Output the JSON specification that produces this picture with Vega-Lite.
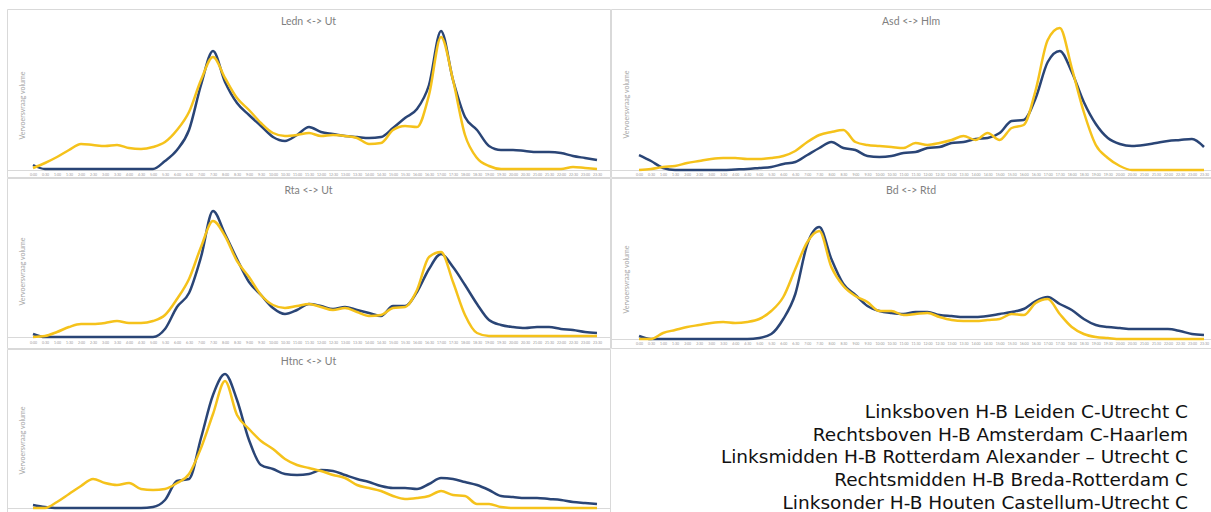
{
"$schema": "https://vega.github.io/schema/vega-lite/v6.json",
"padding": {"left": 6, "top": 8, "right": 0, "bottom": 0},
"background": "white",
"config": {
  "view": {"stroke": "#d9d9d9", "strokeWidth": 1},
  "font": "Lato",
  "title": {"fontSize": 10.5, "fontWeight": "normal", "color": "#808080", "font": "Lato", "offset": -18, "anchor": "middle", "baseline": "alphabetic"},
  "line": {"strokeWidth": 2.5, "interpolate": "monotone"}
},
"datasets": {
"regels": [
{"regel": 1, "tekst": "Linksboven H-B Leiden C-Utrecht C"},
{"regel": 2, "tekst": "Rechtsboven H-B Amsterdam C-Haarlem"},
{"regel": 3, "tekst": "Linksmidden H-B Rotterdam Alexander – Utrecht C"},
{"regel": 4, "tekst": "Rechtsmidden H-B Breda-Rotterdam C"},
{"regel": 5, "tekst": "Linksonder H-B Houten Castellum-Utrecht C"}
],
"reeksen": [
{"paneel":"TL","t":0,"blauw":5,"geel":2},{"paneel":"TL","t":1,"blauw":1,"geel":7},{"paneel":"TL","t":2,"blauw":1,"geel":13},{"paneel":"TL","t":3,"blauw":1,"geel":20},{"paneel":"TL","t":4,"blauw":1,"geel":26},{"paneel":"TL","t":5,"blauw":1,"geel":25},{"paneel":"TL","t":6,"blauw":1,"geel":24},{"paneel":"TL","t":7,"blauw":1,"geel":25},{"paneel":"TL","t":8,"blauw":1,"geel":22},{"paneel":"TL","t":9,"blauw":1,"geel":21},
{"paneel":"TL","t":10,"blauw":1,"geel":23},{"paneel":"TL","t":11,"blauw":9,"geel":28},{"paneel":"TL","t":12,"blauw":20,"geel":40},{"paneel":"TL","t":13,"blauw":40,"geel":58},{"paneel":"TL","t":14,"blauw":85,"geel":90},{"paneel":"TL","t":15,"blauw":119,"geel":113},{"paneel":"TL","t":16,"blauw":88,"geel":92},{"paneel":"TL","t":17,"blauw":67,"geel":72},{"paneel":"TL","t":18,"blauw":55,"geel":60},{"paneel":"TL","t":19,"blauw":44,"geel":47},
{"paneel":"TL","t":20,"blauw":33,"geel":37},{"paneel":"TL","t":21,"blauw":29,"geel":34},{"paneel":"TL","t":22,"blauw":35,"geel":35},{"paneel":"TL","t":23,"blauw":43,"geel":37},{"paneel":"TL","t":24,"blauw":38,"geel":34},{"paneel":"TL","t":25,"blauw":36,"geel":35},{"paneel":"TL","t":26,"blauw":34,"geel":34},{"paneel":"TL","t":27,"blauw":33,"geel":32},{"paneel":"TL","t":28,"blauw":32,"geel":26},{"paneel":"TL","t":29,"blauw":33,"geel":27},
{"paneel":"TL","t":30,"blauw":42,"geel":40},{"paneel":"TL","t":31,"blauw":52,"geel":44},{"paneel":"TL","t":32,"blauw":61,"geel":43},{"paneel":"TL","t":33,"blauw":85,"geel":75},{"paneel":"TL","t":34,"blauw":139,"geel":133},{"paneel":"TL","t":35,"blauw":90,"geel":90},{"paneel":"TL","t":36,"blauw":53,"geel":35},{"paneel":"TL","t":37,"blauw":40,"geel":12},{"paneel":"TL","t":38,"blauw":24,"geel":4},{"paneel":"TL","t":39,"blauw":20,"geel":1},
{"paneel":"TL","t":40,"blauw":20,"geel":1},{"paneel":"TL","t":41,"blauw":19,"geel":1},{"paneel":"TL","t":42,"blauw":18,"geel":1},{"paneel":"TL","t":43,"blauw":18,"geel":1},{"paneel":"TL","t":44,"blauw":17,"geel":1},{"paneel":"TL","t":45,"blauw":14,"geel":3},{"paneel":"TL","t":46,"blauw":12,"geel":2},{"paneel":"TL","t":47,"blauw":10,"geel":1},

{"paneel":"TR","t":0,"blauw":15,"geel":0},{"paneel":"TR","t":1,"blauw":9,"geel":1},{"paneel":"TR","t":2,"blauw":2,"geel":3},{"paneel":"TR","t":3,"blauw":0,"geel":4},{"paneel":"TR","t":4,"blauw":0,"geel":7},{"paneel":"TR","t":5,"blauw":0,"geel":9},{"paneel":"TR","t":6,"blauw":0,"geel":11},{"paneel":"TR","t":7,"blauw":0,"geel":12},{"paneel":"TR","t":8,"blauw":0.5,"geel":12},{"paneel":"TR","t":9,"blauw":1,"geel":11},
{"paneel":"TR","t":10,"blauw":2,"geel":11},{"paneel":"TR","t":11,"blauw":3,"geel":12},{"paneel":"TR","t":12,"blauw":6,"geel":14},{"paneel":"TR","t":13,"blauw":8,"geel":19},{"paneel":"TR","t":14,"blauw":15,"geel":28},{"paneel":"TR","t":15,"blauw":22,"geel":35},{"paneel":"TR","t":16,"blauw":28,"geel":38},{"paneel":"TR","t":17,"blauw":22,"geel":40},{"paneel":"TR","t":18,"blauw":20,"geel":28},{"paneel":"TR","t":19,"blauw":14,"geel":25},
{"paneel":"TR","t":20,"blauw":13,"geel":24},{"paneel":"TR","t":21,"blauw":14,"geel":23},{"paneel":"TR","t":22,"blauw":17,"geel":22},{"paneel":"TR","t":23,"blauw":18,"geel":27},{"paneel":"TR","t":24,"blauw":22,"geel":25},{"paneel":"TR","t":25,"blauw":23,"geel":27},{"paneel":"TR","t":26,"blauw":27,"geel":30},{"paneel":"TR","t":27,"blauw":28,"geel":34},{"paneel":"TR","t":28,"blauw":31,"geel":30},{"paneel":"TR","t":29,"blauw":32,"geel":37},
{"paneel":"TR","t":30,"blauw":37,"geel":30},{"paneel":"TR","t":31,"blauw":49,"geel":42},{"paneel":"TR","t":32,"blauw":50,"geel":45},{"paneel":"TR","t":33,"blauw":72,"geel":80},{"paneel":"TR","t":34,"blauw":108,"geel":130},{"paneel":"TR","t":35,"blauw":119,"geel":142},{"paneel":"TR","t":36,"blauw":98,"geel":102},{"paneel":"TR","t":37,"blauw":68,"geel":58},{"paneel":"TR","t":38,"blauw":46,"geel":25},{"paneel":"TR","t":39,"blauw":32,"geel":12},
{"paneel":"TR","t":40,"blauw":26,"geel":4},{"paneel":"TR","t":41,"blauw":24,"geel":0},{"paneel":"TR","t":42,"blauw":25,"geel":0},{"paneel":"TR","t":43,"blauw":27,"geel":0},{"paneel":"TR","t":44,"blauw":29,"geel":0},{"paneel":"TR","t":45,"blauw":30,"geel":0},{"paneel":"TR","t":46,"blauw":31,"geel":0},{"paneel":"TR","t":47,"blauw":23,"geel":0},

{"paneel":"ML","t":0,"blauw":3,"geel":0},{"paneel":"ML","t":1,"blauw":0,"geel":1},{"paneel":"ML","t":2,"blauw":0,"geel":5},{"paneel":"ML","t":3,"blauw":0,"geel":10},{"paneel":"ML","t":4,"blauw":0,"geel":13},{"paneel":"ML","t":5,"blauw":0,"geel":13},{"paneel":"ML","t":6,"blauw":0,"geel":14},{"paneel":"ML","t":7,"blauw":0,"geel":16},{"paneel":"ML","t":8,"blauw":0,"geel":14},{"paneel":"ML","t":9,"blauw":0,"geel":14},
{"paneel":"ML","t":10,"blauw":0,"geel":16},{"paneel":"ML","t":11,"blauw":8,"geel":22},{"paneel":"ML","t":12,"blauw":30,"geel":38},{"paneel":"ML","t":13,"blauw":44,"geel":58},{"paneel":"ML","t":14,"blauw":80,"geel":90},{"paneel":"ML","t":15,"blauw":126,"geel":116},{"paneel":"ML","t":16,"blauw":103,"geel":101},{"paneel":"ML","t":17,"blauw":78,"geel":76},{"paneel":"ML","t":18,"blauw":55,"geel":60},{"paneel":"ML","t":19,"blauw":42,"geel":42},
{"paneel":"ML","t":20,"blauw":29,"geel":32},{"paneel":"ML","t":21,"blauw":23,"geel":29},{"paneel":"ML","t":22,"blauw":27,"geel":31},{"paneel":"ML","t":23,"blauw":33,"geel":33},{"paneel":"ML","t":24,"blauw":31,"geel":30},{"paneel":"ML","t":25,"blauw":28,"geel":27},{"paneel":"ML","t":26,"blauw":30,"geel":29},{"paneel":"ML","t":27,"blauw":27,"geel":25},{"paneel":"ML","t":28,"blauw":24,"geel":21},{"paneel":"ML","t":29,"blauw":21,"geel":22},
{"paneel":"ML","t":30,"blauw":31,"geel":29},{"paneel":"ML","t":31,"blauw":31,"geel":30},{"paneel":"ML","t":32,"blauw":45,"geel":47},{"paneel":"ML","t":33,"blauw":68,"geel":80},{"paneel":"ML","t":34,"blauw":83,"geel":85},{"paneel":"ML","t":35,"blauw":70,"geel":55},{"paneel":"ML","t":36,"blauw":52,"geel":22},{"paneel":"ML","t":37,"blauw":33,"geel":4},{"paneel":"ML","t":38,"blauw":17,"geel":1},{"paneel":"ML","t":39,"blauw":12,"geel":1},
{"paneel":"ML","t":40,"blauw":10,"geel":1},{"paneel":"ML","t":41,"blauw":9,"geel":1},{"paneel":"ML","t":42,"blauw":10,"geel":1},{"paneel":"ML","t":43,"blauw":10,"geel":1},{"paneel":"ML","t":44,"blauw":8,"geel":1},{"paneel":"ML","t":45,"blauw":7,"geel":1},{"paneel":"ML","t":46,"blauw":5,"geel":1},{"paneel":"ML","t":47,"blauw":4,"geel":1},

{"paneel":"MR","t":0,"blauw":3,"geel":0},{"paneel":"MR","t":1,"blauw":0,"geel":0},{"paneel":"MR","t":2,"blauw":0,"geel":6},{"paneel":"MR","t":3,"blauw":0,"geel":9},{"paneel":"MR","t":4,"blauw":0,"geel":12},{"paneel":"MR","t":5,"blauw":0,"geel":14},{"paneel":"MR","t":6,"blauw":0,"geel":16},{"paneel":"MR","t":7,"blauw":0,"geel":17},{"paneel":"MR","t":8,"blauw":0,"geel":16},{"paneel":"MR","t":9,"blauw":0,"geel":17},
{"paneel":"MR","t":10,"blauw":1,"geel":20},{"paneel":"MR","t":11,"blauw":5,"geel":28},{"paneel":"MR","t":12,"blauw":20,"geel":42},{"paneel":"MR","t":13,"blauw":45,"geel":70},{"paneel":"MR","t":14,"blauw":95,"geel":97},{"paneel":"MR","t":15,"blauw":112,"geel":108},{"paneel":"MR","t":16,"blauw":80,"geel":72},{"paneel":"MR","t":17,"blauw":55,"geel":53},{"paneel":"MR","t":18,"blauw":44,"geel":43},{"paneel":"MR","t":19,"blauw":33,"geel":37},
{"paneel":"MR","t":20,"blauw":28,"geel":28},{"paneel":"MR","t":21,"blauw":26,"geel":28},{"paneel":"MR","t":22,"blauw":25,"geel":24},{"paneel":"MR","t":23,"blauw":27,"geel":25},{"paneel":"MR","t":24,"blauw":27,"geel":26},{"paneel":"MR","t":25,"blauw":24,"geel":22},{"paneel":"MR","t":26,"blauw":23,"geel":19},{"paneel":"MR","t":27,"blauw":22,"geel":18},{"paneel":"MR","t":28,"blauw":22,"geel":18},{"paneel":"MR","t":29,"blauw":23,"geel":19},
{"paneel":"MR","t":30,"blauw":25,"geel":20},{"paneel":"MR","t":31,"blauw":27,"geel":25},{"paneel":"MR","t":32,"blauw":30,"geel":24},{"paneel":"MR","t":33,"blauw":38,"geel":36},{"paneel":"MR","t":34,"blauw":42,"geel":40},{"paneel":"MR","t":35,"blauw":35,"geel":25},{"paneel":"MR","t":36,"blauw":29,"geel":12},{"paneel":"MR","t":37,"blauw":20,"geel":5},{"paneel":"MR","t":38,"blauw":14,"geel":2},{"paneel":"MR","t":39,"blauw":12,"geel":1},
{"paneel":"MR","t":40,"blauw":11,"geel":0},{"paneel":"MR","t":41,"blauw":10,"geel":0},{"paneel":"MR","t":42,"blauw":10,"geel":0},{"paneel":"MR","t":43,"blauw":10,"geel":0},{"paneel":"MR","t":44,"blauw":10,"geel":0},{"paneel":"MR","t":45,"blauw":8,"geel":0},{"paneel":"MR","t":46,"blauw":5,"geel":0},{"paneel":"MR","t":47,"blauw":4,"geel":0},

{"paneel":"BL","t":0,"blauw":3,"geel":0},{"paneel":"BL","t":1,"blauw":1,"geel":0},{"paneel":"BL","t":2,"blauw":0,"geel":6},{"paneel":"BL","t":3,"blauw":0,"geel":14},{"paneel":"BL","t":4,"blauw":0,"geel":22},{"paneel":"BL","t":5,"blauw":0,"geel":29},{"paneel":"BL","t":6,"blauw":0,"geel":25},{"paneel":"BL","t":7,"blauw":0,"geel":23},{"paneel":"BL","t":8,"blauw":0,"geel":25},{"paneel":"BL","t":9,"blauw":0,"geel":19},
{"paneel":"BL","t":10,"blauw":1,"geel":18},{"paneel":"BL","t":11,"blauw":8,"geel":19},{"paneel":"BL","t":12,"blauw":27,"geel":25},{"paneel":"BL","t":13,"blauw":29,"geel":34},{"paneel":"BL","t":14,"blauw":70,"geel":60},{"paneel":"BL","t":15,"blauw":113,"geel":94},{"paneel":"BL","t":16,"blauw":134,"geel":127},{"paneel":"BL","t":17,"blauw":108,"geel":93},{"paneel":"BL","t":18,"blauw":68,"geel":79},{"paneel":"BL","t":19,"blauw":43,"geel":67},
{"paneel":"BL","t":20,"blauw":39,"geel":59},{"paneel":"BL","t":21,"blauw":34,"geel":49},{"paneel":"BL","t":22,"blauw":33,"geel":43},{"paneel":"BL","t":23,"blauw":34,"geel":40},{"paneel":"BL","t":24,"blauw":38,"geel":37},{"paneel":"BL","t":25,"blauw":37,"geel":33},{"paneel":"BL","t":26,"blauw":33,"geel":30},{"paneel":"BL","t":27,"blauw":29,"geel":23},{"paneel":"BL","t":28,"blauw":26,"geel":20},{"paneel":"BL","t":29,"blauw":22,"geel":17},
{"paneel":"BL","t":30,"blauw":20,"geel":12},{"paneel":"BL","t":31,"blauw":20,"geel":9},{"paneel":"BL","t":32,"blauw":19,"geel":10},{"paneel":"BL","t":33,"blauw":24,"geel":12},{"paneel":"BL","t":34,"blauw":30,"geel":17},{"paneel":"BL","t":35,"blauw":29,"geel":13},{"paneel":"BL","t":36,"blauw":26,"geel":12},{"paneel":"BL","t":37,"blauw":23,"geel":4},{"paneel":"BL","t":38,"blauw":18,"geel":4},{"paneel":"BL","t":39,"blauw":12,"geel":1},
{"paneel":"BL","t":40,"blauw":11,"geel":0},{"paneel":"BL","t":41,"blauw":10,"geel":0},{"paneel":"BL","t":42,"blauw":10,"geel":0},{"paneel":"BL","t":43,"blauw":9,"geel":0},{"paneel":"BL","t":44,"blauw":8,"geel":0},{"paneel":"BL","t":45,"blauw":6,"geel":0},{"paneel":"BL","t":46,"blauw":5,"geel":0},{"paneel":"BL","t":47,"blauw":4,"geel":0}
]
},
"vconcat": [
{"hconcat": [
  {"width": 603, "height": 168, "title": "Ledn <-> Ut",
   "data": {"name": "reeksen"}, "transform": [{"filter": "datum.paneel === 'TL'"}],
   "encoding": {"x": {"field": "t", "type": "quantitative", "scale": {"domain": [-2.167, 48.083], "nice": false, "zero": false},
      "axis": {"offset": -7, "title": null, "grid": false, "ticks": false, "domainColor": "#d9d9d9", "values": [0,1,2,3,4,5,6,7,8,9,10,11,12,13,14,15,16,17,18,19,20,21,22,23,24,25,26,27,28,29,30,31,32,33,34,35,36,37,38,39,40,41,42,43,44,45,46,47], "labelExpr": "floor(datum.value/2) + ':' + (datum.value % 2 ? '30' : '00')", "labelFontSize": 3.5, "labelColor": "#9a9a9a", "labelPadding": 2, "labelOverlap": false, "labelFlush": false}}},
   "layer": [
     {"mark": {"type": "line", "color": "#2a4576"}, "encoding": {"y": {"field": "blauw", "type": "quantitative", "scale": {"domain": [-7, 161], "nice": false, "zero": false}, "axis": {"title": "Vervoersvraag volume", "labels": false, "ticks": false, "domain": false, "grid": false, "titleFontSize": 7, "titleColor": "#a6a6a6", "titleFontWeight": "normal", "titleX": 15, "titleY": 96, "titleAngle": 270, "titleAlign": "center", "titleBaseline": "middle"}}}},
     {"mark": {"type": "line", "color": "#f5c21b"}, "encoding": {"y": {"field": "geel", "type": "quantitative"}}}
   ]},
  {"width": 600, "height": 168, "title": "Asd <-> Hlm",
   "data": {"name": "reeksen"}, "transform": [{"filter": "datum.paneel === 'TR'"}],
   "encoding": {"x": {"field": "t", "type": "quantitative", "scale": {"domain": [-2.333, 47.583], "nice": false, "zero": false},
      "axis": {"offset": -7, "title": null, "grid": false, "ticks": false, "domainColor": "#d9d9d9", "values": [0,1,2,3,4,5,6,7,8,9,10,11,12,13,14,15,16,17,18,19,20,21,22,23,24,25,26,27,28,29,30,31,32,33,34,35,36,37,38,39,40,41,42,43,44,45,46,47], "labelExpr": "floor(datum.value/2) + ':' + (datum.value % 2 ? '30' : '00')", "labelFontSize": 3.5, "labelColor": "#9a9a9a", "labelPadding": 2, "labelOverlap": false, "labelFlush": false}}},
   "layer": [
     {"mark": {"type": "line", "color": "#2a4576"}, "encoding": {"y": {"field": "blauw", "type": "quantitative", "scale": {"domain": [-7, 161], "nice": false, "zero": false}, "axis": {"title": "Vervoersvraag volume", "labels": false, "ticks": false, "domain": false, "grid": false, "titleFontSize": 7, "titleColor": "#a6a6a6", "titleFontWeight": "normal", "titleX": 15, "titleY": 95, "titleAngle": 270, "titleAlign": "center", "titleBaseline": "middle"}}}},
     {"mark": {"type": "line", "color": "#f5c21b"}, "encoding": {"y": {"field": "geel", "type": "quantitative"}}}
   ]}
 ], "spacing": -1},
{"hconcat": [
  {"width": 603, "height": 170, "title": "Rta <-> Ut",
   "data": {"name": "reeksen"}, "transform": [{"filter": "datum.paneel === 'ML'"}],
   "encoding": {"x": {"field": "t", "type": "quantitative", "scale": {"domain": [-2.167, 48.083], "nice": false, "zero": false},
      "axis": {"offset": -11, "title": null, "grid": false, "ticks": false, "domainColor": "#d9d9d9", "values": [0,1,2,3,4,5,6,7,8,9,10,11,12,13,14,15,16,17,18,19,20,21,22,23,24,25,26,27,28,29,30,31,32,33,34,35,36,37,38,39,40,41,42,43,44,45,46,47], "labelExpr": "floor(datum.value/2) + ':' + (datum.value % 2 ? '30' : '00')", "labelFontSize": 3.5, "labelColor": "#9a9a9a", "labelPadding": 3, "labelOverlap": false, "labelFlush": false}}},
   "layer": [
     {"mark": {"type": "line", "color": "#2a4576"}, "encoding": {"y": {"field": "blauw", "type": "quantitative", "scale": {"domain": [-11, 159], "nice": false, "zero": false}, "axis": {"title": "Vervoersvraag volume", "labels": false, "ticks": false, "domain": false, "grid": false, "titleFontSize": 7, "titleColor": "#a6a6a6", "titleFontWeight": "normal", "titleX": 15, "titleY": 93, "titleAngle": 270, "titleAlign": "center", "titleBaseline": "middle"}}}},
     {"mark": {"type": "line", "color": "#f5c21b"}, "encoding": {"y": {"field": "geel", "type": "quantitative"}}}
   ]},
  {"width": 600, "height": 170, "title": "Bd <-> Rtd",
   "data": {"name": "reeksen"}, "transform": [{"filter": "datum.paneel === 'MR'"}],
   "encoding": {"x": {"field": "t", "type": "quantitative", "scale": {"domain": [-2.333, 47.583], "nice": false, "zero": false},
      "axis": {"offset": -9, "title": null, "grid": false, "ticks": false, "domainColor": "#d9d9d9", "values": [0,1,2,3,4,5,6,7,8,9,10,11,12,13,14,15,16,17,18,19,20,21,22,23,24,25,26,27,28,29,30,31,32,33,34,35,36,37,38,39,40,41,42,43,44,45,46,47], "labelExpr": "floor(datum.value/2) + ':' + (datum.value % 2 ? '30' : '00')", "labelFontSize": 3.5, "labelColor": "#9a9a9a", "labelPadding": 2, "labelOverlap": false, "labelFlush": false}}},
   "layer": [
     {"mark": {"type": "line", "color": "#2a4576"}, "encoding": {"y": {"field": "blauw", "type": "quantitative", "scale": {"domain": [-9, 161], "nice": false, "zero": false}, "axis": {"title": "Vervoersvraag volume", "labels": false, "ticks": false, "domain": false, "grid": false, "titleFontSize": 7, "titleColor": "#a6a6a6", "titleFontWeight": "normal", "titleX": 15, "titleY": 101, "titleAngle": 270, "titleAlign": "center", "titleBaseline": "middle"}}}},
     {"mark": {"type": "line", "color": "#f5c21b"}, "encoding": {"y": {"field": "geel", "type": "quantitative"}}}
   ]}
 ], "spacing": -1},
{"hconcat": [
  {"width": 603, "height": 165, "title": "Htnc <-> Ut",
   "data": {"name": "reeksen"}, "transform": [{"filter": "datum.paneel === 'BL'"}],
   "encoding": {"x": {"field": "t", "type": "quantitative", "scale": {"domain": [-2.167, 48.083], "nice": false, "zero": false},
      "axis": {"offset": -6, "title": null, "grid": false, "ticks": false, "labels": false, "domainColor": "#d9d9d9"}}},
   "layer": [
     {"mark": {"type": "line", "color": "#2a4576"}, "encoding": {"y": {"field": "blauw", "type": "quantitative", "scale": {"domain": [-6, 159], "nice": false, "zero": false}, "axis": {"title": "Vervoersvraag volume", "labels": false, "ticks": false, "domain": false, "grid": false, "titleFontSize": 7, "titleColor": "#a6a6a6", "titleFontWeight": "normal", "titleX": 15, "titleY": 91, "titleAngle": 270, "titleAlign": "center", "titleBaseline": "middle"}}}},
     {"mark": {"type": "line", "color": "#f5c21b"}, "encoding": {"y": {"field": "geel", "type": "quantitative"}}}
   ]},
  {"width": 600, "height": 165,
   "view": {"stroke": null},
   "data": {"name": "regels"},
   "mark": {"type": "text", "align": "right", "baseline": "middle", "fontSize": 18.5, "font": "DejaVu Sans", "color": "#111111", "dx": -23},
   "encoding": {
     "x": {"datum": 1, "type": "quantitative", "scale": {"domain": [0, 1], "nice": false, "zero": false}, "axis": null},
     "y": {"field": "regel", "type": "quantitative", "scale": {"domain": [-1.769, 5.484], "reverse": true, "nice": false, "zero": false}, "axis": null},
     "text": {"field": "tekst"}
   }}
 ], "spacing": -1}
],
"spacing": -2
}
